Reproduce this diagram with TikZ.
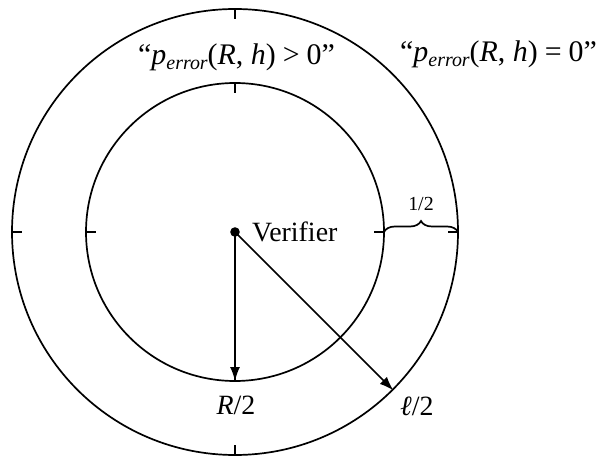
\documentclass[tikz,border=0pt]{standalone}
\usepackage{fontspec}
\setmainfont{Liberation Serif}
\usetikzlibrary{decorations.pathreplacing,arrows.meta,calc}
\begin{document}
\begin{tikzpicture}[x=1bp,y=-1bp,
  circ/.style={line width=1.7bp},
  tickmark/.style={line width=1.7bp},
  arr/.style={line width=1.7bp,-{Latex[length=14bp,width=10bp]}},
  lab/.style={font=\fontsize{28}{32}\selectfont, inner sep=0pt},
  toplab/.style={font=\fontsize{30}{34}\selectfont, inner sep=0pt},
  small/.style={font=\fontsize{20}{24}\selectfont, inner sep=0pt},
  bracestyle/.style={line width=1.7bp, decorate, decoration={brace, amplitude=11bp}},
  ]
\newcommand{\sub}[1]{\raisebox{-5bp}{\fontsize{20}{21}\selectfont\itshape #1}}
\newcommand{\rel}[1]{\hspace{7bp}#1\hspace{7bp}}
\useasboundingbox (0,0) rectangle (603,457);
\coordinate (c) at (235,232);
\draw[circ] (c) circle[radius=149];
\draw[circ] (c) circle[radius=223];
\foreach \a in {0,90,180,270} {
  \draw[tickmark] ($(c)+(\a:149)$) -- ($(c)+(\a:139)$);
  \draw[tickmark] ($(c)+(\a:223)$) -- ($(c)+(\a:213)$);
}
\fill (c) circle[radius=4.8];
\coordinate (rb) at ($(c)+(90:149)$);
\coordinate (lb) at ($(c)+(45:224)$);
\draw[arr] (c) -- (rb);
\draw[arr] (c) -- (lb);
\node[lab, anchor=base west] (ver) at (252,242) {Verifier};
\node[lab, anchor=base] (r2) at (236,414) {\textit{R}/2};
\node[lab, anchor=base west] (l2) at (400,415) {\textit{ℓ}/2};
\node[toplab, anchor=base west] (g0) at (138,65) {“\textit{p}\sub{error}(\textit{R}, \textit{h})\rel{>}0”};
\node[toplab, anchor=base west] (e0) at (400,62) {“\textit{p}\sub{error}(\textit{R}, \textit{h})\rel{=}0”};
\coordinate (bl) at ($(c)+(0:149)$);
\coordinate (br) at ($(c)+(0:223)$);
\draw[bracestyle] (bl) -- (br);
\node[small] (half) at (421,204) {1/2};
\end{tikzpicture}
\end{document}
